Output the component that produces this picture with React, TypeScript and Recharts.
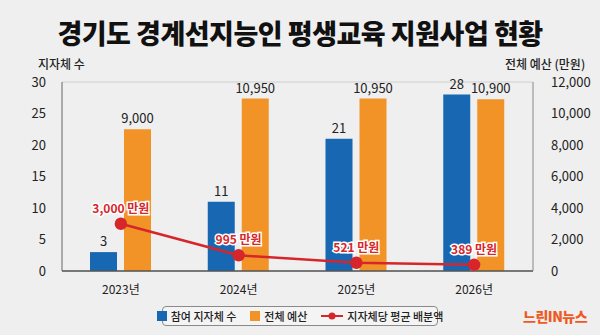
import { ComposedChart, Bar, Line, XAxis, YAxis, CartesianGrid, LabelList } from "recharts";

const years = ["2023년", "2024년", "2025년", "2026년"];
const localGovCount = [3, 11, 21, 28];
const totalBudget = [9000, 10950, 10950, 10900];
const avgPerGov = [3000, 995, 521, 389];

const leftTicks = [0, 5, 10, 15, 20, 25, 30];
const rightTicks = [0, 2000, 4000, 6000, 8000, 10000, 12000];

const BLUE = "#1767b3";
const ORANGE = "#f29327";
const RED = "#d7262b";
const FONT = "'Noto Sans CJK KR', 'Noto Sans', sans-serif";

const data = years.map((year, i) => ({
  year,
  count: localGovCount[i],
  budget: totalBudget[i],
  avg: avgPerGov[i],
}));

const fmt = (v: number) => v.toLocaleString("en-US");

function LineLabel(props: any) {
  const { x, y, value } = props;
  return (
    <text
      x={x}
      y={y - 11}
      textAnchor="middle"
      fontSize={12}
      fontWeight={700}
      fill={RED}
      stroke="#ffffff"
      strokeWidth={3}
      paintOrder="stroke"
      fontFamily={FONT}
    >
      {fmt(value)} 만원
    </text>
  );
}

function LegendBox() {
  const item = { display: "flex", alignItems: "center", gap: 4, whiteSpace: "nowrap" as const };
  return (
    <div
      style={{
        position: "absolute",
        left: 162,
        top: 306,
        boxSizing: "border-box",
        display: "flex",
        alignItems: "center",
        justifyContent: "center",
        gap: 14,
        border: "1px solid #8a8a8a",
        borderRadius: 4,
        background: "#f4f4f4",
        height: 20,
        width: 276,
        fontSize: 11,
        lineHeight: 1,
        fontWeight: 500,
        fontFamily: FONT,
        color: "#222",
      }}
    >
      <span style={item}>
        <span style={{ width: 10, height: 10, background: BLUE, display: "inline-block" }} />
        참여 지자체 수
      </span>
      <span style={item}>
        <span style={{ width: 10, height: 10, background: ORANGE, display: "inline-block" }} />
        전체 예산
      </span>
      <span style={item}>
        <svg width={22} height={10}>
          <line x1={0} y1={5} x2={22} y2={5} stroke={RED} strokeWidth={2} />
          <circle cx={11} cy={5} r={3.5} fill={RED} />
        </svg>
        지자체당 평균 배분액
      </span>
    </div>
  );
}

export default function App() {
  return (
    <div
      style={{
        position: "absolute",
        left: 0,
        top: 0,
        width: 600,
        height: 335,
        background: "#efefef",
        fontFamily: FONT,
        overflow: "hidden",
      }}
    >
      <div
        style={{
          position: "absolute",
          top: 15,
          left: 0,
          width: 600,
          textAlign: "center",
          fontSize: 27,
          lineHeight: "36px",
          fontWeight: 900,
          color: "#111",
          letterSpacing: -0.5,
        }}
      >
        경기도 경계선지능인 평생교육 지원사업 현황
      </div>
      <div style={{ position: "absolute", left: 38, top: 58, fontSize: 12, lineHeight: 1, fontWeight: 500, color: "#222" }}>
        지자체 수
      </div>
      <div style={{ position: "absolute", left: 505, top: 58, fontSize: 12, lineHeight: 1, fontWeight: 500, color: "#222" }}>
        전체 예산 (만원)
      </div>
      <div style={{ position: "absolute", left: 0, top: 0 }}>
        <ComposedChart
          width={600}
          height={296}
          data={data}
          margin={{ top: 82, right: 0, left: 0, bottom: 0 }}
          barSize={27}
          barGap={7}
        >
          <CartesianGrid vertical={false} stroke="#cfcfcf" />
          <XAxis
            dataKey="year"
            tickLine={false}
            axisLine={{ stroke: "#555", strokeWidth: 1.5 }}
            tick={{ fontSize: 12, fill: "#222", fontFamily: FONT }}
            tickMargin={8}
            height={25}
          />
          <YAxis
            yAxisId="left"
            domain={[0, 30]}
            ticks={leftTicks}
            width={62}
            tickLine={false}
            axisLine={{ stroke: "#666" }}
            tick={{ fontSize: 13, fill: "#222", fontFamily: FONT }}
            tickMargin={10}
          />
          <YAxis
            yAxisId="right"
            orientation="right"
            domain={[0, 12000]}
            ticks={rightTicks}
            width={67}
            tickLine={false}
            axisLine={{ stroke: "#888" }}
            tick={{ fontSize: 13, fill: "#222", fontFamily: FONT, textAnchor: "start" }}
            tickMargin={12}
            tickFormatter={fmt}
          />
          <Bar yAxisId="left" dataKey="count" fill={BLUE} isAnimationActive={false}>
            <LabelList dataKey="count" position="top" fontSize={13} fill="#222" fontFamily={FONT} offset={6} />
          </Bar>
          <Bar yAxisId="right" dataKey="budget" fill={ORANGE} isAnimationActive={false}>
            <LabelList
              dataKey="budget"
              position="top"
              fontSize={13}
              fill="#222"
              fontFamily={FONT}
              offset={6}
              formatter={(v: any) => fmt(v)}
            />
          </Bar>
          <Line
            yAxisId="right"
            dataKey="avg"
            stroke={RED}
            strokeWidth={2.5}
            dot={{ r: 5, fill: RED, stroke: RED }}
            isAnimationActive={false}
          >
            <LabelList dataKey="avg" content={<LineLabel />} />
          </Line>
        </ComposedChart>
      </div>
      <LegendBox />
      <div
        style={{
          position: "absolute",
          left: 523,
          top: 309,
          fontSize: 14,
          lineHeight: 1,
          fontWeight: 900,
          color: "#ee5a24",
          letterSpacing: -0.5,
        }}
      >
        느린IN뉴스
      </div>
    </div>
  );
}
